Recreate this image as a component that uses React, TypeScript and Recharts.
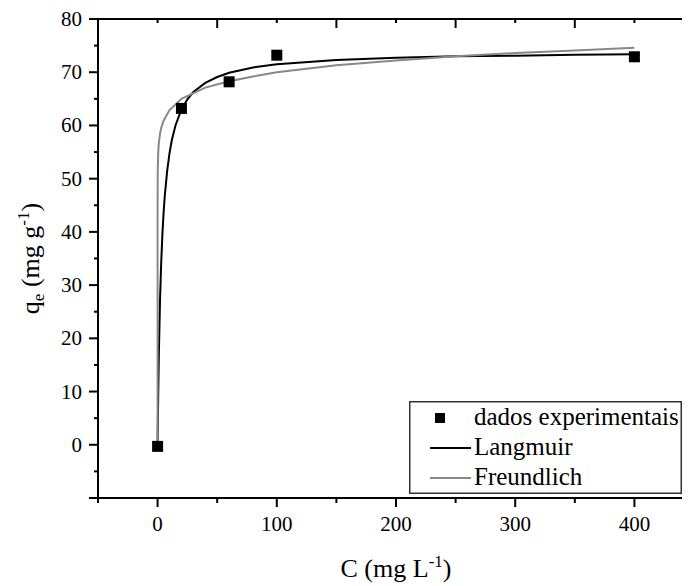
import React from 'react';
import { ComposedChart, Line, Scatter, XAxis, YAxis, Legend } from 'recharts';

// Experimental data
const expC = [0, 20, 60, 100, 400];
const expQ = [-0.3, 63.2, 68.2, 73.2, 72.9];

// Langmuir fit curve
const langC = [0, 0.5, 1, 2, 3, 4, 5, 6, 8, 10, 12, 15, 20, 25, 30, 40, 50, 60, 80, 100, 150, 200, 250, 300, 350, 400];
const langQ = [0, 9.2, 16.4, 26.9, 34.1, 39.4, 43.5, 46.7, 51.4, 54.8, 57.3, 60.0, 63.0, 64.9, 66.3, 68.0, 69.1, 69.9, 70.9, 71.5, 72.3, 72.7, 73.0, 73.1, 73.3, 73.4];

// Freundlich fit curve
const freuC = [0, 0.001, 0.01, 0.1, 0.5, 1, 2, 3, 5, 10, 20, 40, 60, 80, 100, 150, 200, 250, 300, 350, 400];
const freuQ = [0, 41.2, 45.8, 50.9, 54.8, 56.6, 58.4, 59.5, 60.9, 62.9, 65.0, 67.1, 68.3, 69.2, 70.0, 71.3, 72.2, 73.0, 73.6, 74.1, 74.6];

// Ticks
const xTicks = [-50, 0, 50, 100, 150, 200, 250, 300, 350, 400, 450];
const xLabelTicks = [0, 100, 200, 300, 400];
const yTicks = [-10, -5, 0, 5, 10, 15, 20, 25, 30, 35, 40, 45, 50, 55, 60, 65, 70, 75, 80];
const yLabelTicks = [0, 10, 20, 30, 40, 50, 60, 70, 80];
const rightTicks = [0, 1, 2, 3, 4, 5, 6, 7, 8, 9, 10];
const rightDomain = [0, 10];

const expRows = expC.map((c, i) => ({ c, q: expQ[i] }));
const langRows = langC.map((c, i) => ({ c, q: langQ[i] }));
const freuRows = freuC.map((c, i) => ({ c, q: freuQ[i] }));
const rightRows = [{ c: xTicks[0], r: rightDomain[0] }, { c: xTicks[xTicks.length - 1], r: rightDomain[1] }];

const FONT = "'Liberation Serif', 'Times New Roman', 'DejaVu Serif', serif";
const TXT: React.CSSProperties = { fontFamily: FONT };
const GRAY = '#888888';

const BottomTick = (props: any) => {
  const { x, y, payload } = props;
  const v = payload.value;
  const major = v % 100 === 0;
  return (
    <g>
      <line x1={x} x2={x} y1={y} y2={y + (major ? 9 : 5)} stroke="#000" strokeWidth={2} />
      {xLabelTicks.includes(v) && (
        <text x={x} y={y + 33} textAnchor="middle" fontSize={21} style={TXT} fill="#000">
          {v}
        </text>
      )}
    </g>
  );
};

const TopTick = (props: any) => {
  const { x, y, payload } = props;
  const v = payload.value;
  const major = (v + 50) % 100 === 0;
  return <line x1={x} x2={x} y1={y} y2={y + (major ? 9 : 4)} stroke="#000" strokeWidth={2} />;
};

const LeftTick = (props: any) => {
  const { x, y, payload } = props;
  const v = payload.value;
  const major = v % 10 === 0;
  return (
    <g>
      <line x1={x - (major ? 9 : 4)} x2={x} y1={y} y2={y} stroke="#000" strokeWidth={2} />
      {yLabelTicks.includes(v) && (
        <text x={x - 16} y={y + 7} textAnchor="end" fontSize={21} style={TXT} fill="#000">
          {v}
        </text>
      )}
    </g>
  );
};

const RightTick = (props: any) => {
  const { x, y, payload } = props;
  const v = payload.value;
  const major = v % 2 === 0;
  return <line x1={x - (major ? 10 : 5)} x2={x} y1={y} y2={y} stroke="#000" strokeWidth={2} />;
};

const XTitle = (props: any) => {
  const vb = props.viewBox || { x: 90, y: 490, width: 596, height: 88 };
  const cx = vb.x + vb.width / 2;
  return (
    <text x={cx} y={vb.y + 79} textAnchor="middle" fontSize={26} style={TXT} fill="#000">
      C (mg L
      <tspan dy={-10} fontSize={17}>-1</tspan>
      <tspan dy={10}>)</tspan>
    </text>
  );
};

const YTitle = (props: any) => {
  const vb = props.viewBox || { x: 0, y: 11, width: 90, height: 479 };
  const x = vb.x + 31;
  const cy = vb.y + vb.height / 2;
  return (
    <text
      x={x}
      y={cy}
      transform={`rotate(-90 ${x} ${cy})`}
      textAnchor="middle"
      fontSize={26}
      style={TXT}
      fill="#000"
    >
      q
      <tspan dy={5} fontSize={17}>e</tspan>
      <tspan dy={-5}> (mg g</tspan>
      <tspan dy={-10} fontSize={17}>-1</tspan>
      <tspan dy={10}>)</tspan>
    </text>
  );
};

const LegendBox = () => (
  <svg width={273} height={93} style={{ display: 'block' }}>
    <rect x={0.75} y={0.75} width={271.5} height={91.5} fill="#fff" stroke="#333" strokeWidth={1.5} />
    <rect x={26} y={12} width={10} height={10} fill="#000" />
    <text x={65} y={24} fontSize={25} style={TXT} fill="#000">dados experimentais</text>
    <line x1={21} x2={62} y1={47} y2={47} stroke="#000" strokeWidth={2} />
    <text x={65} y={54} fontSize={25} style={TXT} fill="#000">Langmuir</text>
    <line x1={21} x2={62} y1={77} y2={77} stroke={GRAY} strokeWidth={2} />
    <text x={65} y={84} fontSize={25} style={TXT} fill="#000">Freundlich</text>
  </svg>
);

const SquareShape = (props: any) => {
  const { cx, cy } = props;
  return <rect x={cx - 5.5} y={cy - 5.5} width={11} height={11} fill="#000" />;
};

export default function App() {
  return (
    <div style={{ width: 682, height: 578, overflow: 'hidden', fontFamily: FONT }}>
      <ComposedChart width={720} height={578} margin={{ top: 0, right: 0, bottom: 0, left: 0 }}>
        <XAxis
          xAxisId="bottom"
          dataKey="c"
          type="number"
          domain={[-50, 450]}
          ticks={xTicks}
          interval={0}
          height={88}
          tickSize={0}
          tickMargin={0}
          tickLine={false}
          tick={<BottomTick />}
          axisLine={{ stroke: '#000', strokeWidth: 2 }}
          label={<XTitle />}
        />
        <XAxis
          xAxisId="top"
          dataKey="c"
          orientation="top"
          type="number"
          domain={[-50, 450]}
          ticks={xTicks}
          interval={0}
          height={11}
          tickSize={0}
          tickMargin={0}
          tickLine={false}
          tick={<TopTick />}
          axisLine={{ stroke: '#000', strokeWidth: 2 }}
        />
        <YAxis
          yAxisId="left"
          type="number"
          domain={[-10, 80]}
          ticks={yTicks}
          interval={0}
          width={90}
          tickSize={0}
          tickMargin={0}
          tickLine={false}
          tick={<LeftTick />}
          axisLine={{ stroke: '#000', strokeWidth: 2 }}
          label={<YTitle />}
        />
        <YAxis
          yAxisId="right"
          orientation="right"
          type="number"
          domain={rightDomain}
          ticks={rightTicks}
          interval={0}
          width={34}
          tickSize={0}
          tickMargin={0}
          tickLine={false}
          tick={<RightTick />}
          axisLine={{ stroke: '#000', strokeWidth: 2 }}
        />
        <Line
          data={rightRows}
          dataKey="r"
          xAxisId="top"
          yAxisId="right"
          stroke="none"
          dot={false}
          activeDot={false}
          legendType="none"
          isAnimationActive={false}
        />
        <Line
          data={langRows}
          dataKey="q"
          xAxisId="bottom"
          yAxisId="left"
          type="linear"
          stroke="#000"
          strokeWidth={2}
          dot={false}
          isAnimationActive={false}
        />
        <Line
          data={freuRows}
          dataKey="q"
          xAxisId="bottom"
          yAxisId="left"
          type="linear"
          stroke={GRAY}
          strokeWidth={2}
          dot={false}
          isAnimationActive={false}
        />
        <Scatter
          data={expRows}
          dataKey="q"
          xAxisId="bottom"
          yAxisId="left"
          shape={<SquareShape />}
          isAnimationActive={false}
        />
        <Legend
          layout="vertical"
          align="center"
          verticalAlign="middle"
          wrapperStyle={{ left: 401, top: 393, width: 273, height: 93 }}
          content={() => <LegendBox />}
        />
      </ComposedChart>
    </div>
  );
}
